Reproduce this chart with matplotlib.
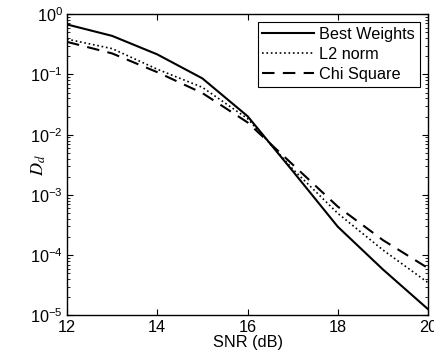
import numpy as np
import matplotlib.pyplot as plt
from matplotlib.ticker import LogLocator, NullFormatter

snr = [12, 13, 14, 15, 16, 17, 18, 19, 20]
best_weights = [0.675, 0.436, 0.215, 0.0859, 0.0203, 2.5e-3, 2.97e-4, 5.8e-5, 1.27e-5]
l2_norm = [0.385, 0.268, 0.122, 0.061, 0.0185, 2.7e-3, 4.95e-4, 1.22e-4, 3.5e-5]
chi_square = [0.347, 0.223, 0.109, 0.049, 0.016, 3.2e-3, 6.4e-4, 1.78e-4, 6.1e-5]

plt.rcParams['font.family'] = ['Liberation Sans', 'DejaVu Sans']
plt.rcParams['mathtext.fontset'] = 'stix'

fig = plt.figure(figsize=(4.35, 3.63), dpi=100)
ax = fig.add_axes([0.154, 0.131, 0.83, 0.830])

ax.semilogy(snr, best_weights, 'k-', linewidth=1.5, label='Best Weights')
ax.semilogy(snr, l2_norm, 'k:', linewidth=1.2, label='L2 norm')
ax.semilogy(snr, chi_square, 'k--', linewidth=1.5, dashes=(6, 4), label='Chi Square')

ax.set_xlim(12, 20)
ax.set_ylim(1e-5, 1)
ax.set_xticks([12, 14, 16, 18, 20])
ax.yaxis.set_major_locator(LogLocator(base=10, numticks=10))
ax.yaxis.set_minor_locator(LogLocator(base=10, subs=np.arange(2, 10), numticks=10))
ax.yaxis.set_minor_formatter(NullFormatter())

ax.tick_params(which='both', direction='in', top=True, right=True, labelsize=11.7)
ax.tick_params(which='major', length=4, pad=3)
ax.tick_params(which='minor', length=2)
for s in ax.spines.values():
    s.set_linewidth(1.0)

ax.set_xlabel('SNR (dB)', fontsize=11.7, labelpad=0)
ax.set_ylabel('$D_d$', fontsize=13)
ax.yaxis.label.set_va('center')
ax.yaxis.set_label_coords(-0.079, 0.5)

leg = ax.legend(loc='upper right', fontsize=11.7, fancybox=False, framealpha=1,
                edgecolor='black', borderpad=0.3, handlelength=3.2,
                handletextpad=0.3, labelspacing=0.3, borderaxespad=0.5)
leg.get_frame().set_linewidth(0.8)

fig.savefig('out.png', dpi=100)
